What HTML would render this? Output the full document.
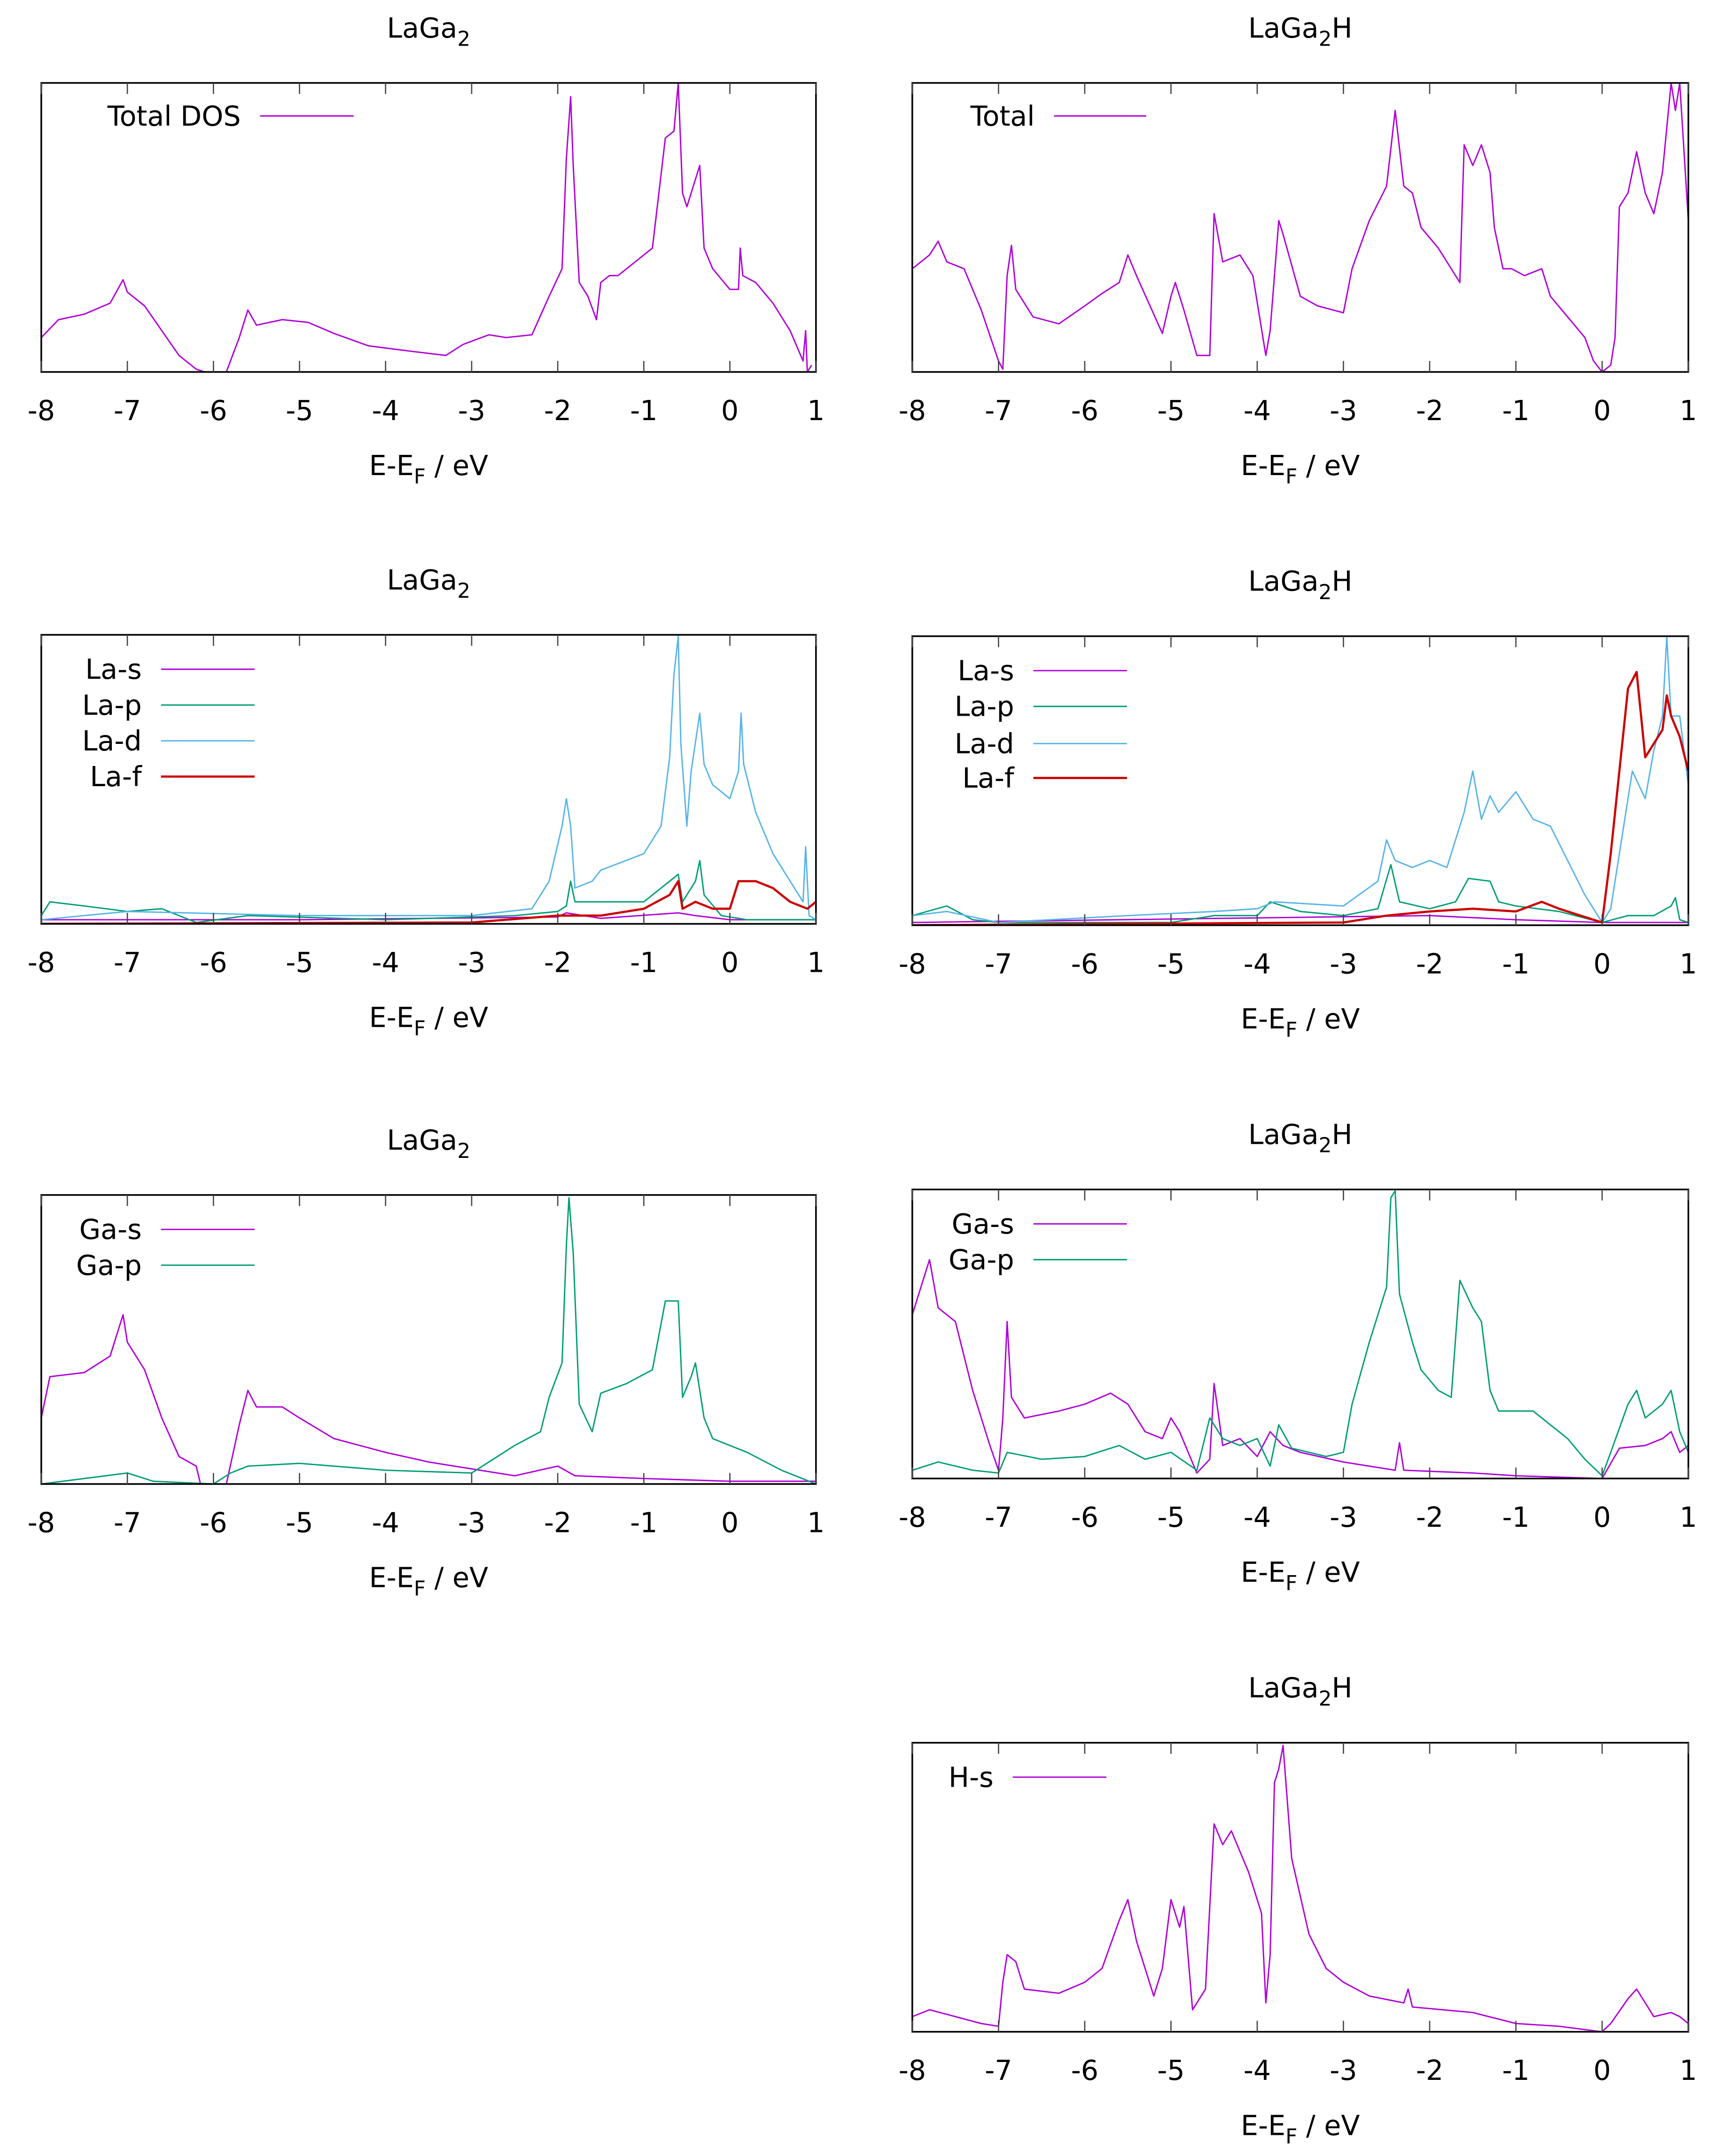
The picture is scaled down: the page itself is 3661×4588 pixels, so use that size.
<!DOCTYPE html>
<html><head><meta charset="utf-8">
<style>
html,body{margin:0;padding:0;background:#fff;}
svg{display:block;}
text{font-family:"DejaVu Sans","Liberation Sans",sans-serif;fill:#000;}
</style></head>
<body>
<svg id="chart" xmlns="http://www.w3.org/2000/svg" width="3661" height="4588" viewBox="0 0 1250 1566"></svg>
<script>
// ---- data (energies in eV, DOS in arbitrary units, axis 0..210) ----
const xTicks = [-8,-7,-6,-5,-4,-3,-2,-1,0,1];

const totLaE = [-8,-7.8,-7.5,-7.2,-7.05,-7,-6.8,-6.6,-6.4,-6.2,-6.1,-5.85,-5.7,-5.6,-5.5,-5.2,-4.9,-4.6,-4.2,-3.7,-3.3,-3.1,-2.8,-2.6,-2.3,-2.1,-1.95,-1.9,-1.85,-1.82,-1.75,-1.65,-1.55,-1.5,-1.4,-1.3,-1.1,-0.9,-0.75,-0.65,-0.6,-0.55,-0.5,-0.4,-0.35,-0.3,-0.2,0,0.1,0.12,0.15,0.3,0.5,0.7,0.85,0.88,0.9,0.95];
const totLaV = [25,38,42,50,67,58,48,30,12,2,0,0,25,45,34,38,36,28,19,15,12,20,27,25,27,55,75,155,200,150,65,55,38,65,70,70,80,90,170,175,210,130,120,140,150,90,75,60,60,90,70,65,50,30,8,30,0,5];

const totHE = [-8,-7.8,-7.7,-7.6,-7.4,-7.2,-7,-6.95,-6.9,-6.85,-6.8,-6.6,-6.3,-6,-5.8,-5.6,-5.5,-5.4,-5.2,-5.1,-5,-4.95,-4.85,-4.7,-4.55,-4.5,-4.4,-4.2,-4.05,-3.9,-3.85,-3.75,-3.7,-3.5,-3.3,-3,-2.9,-2.7,-2.5,-2.4,-2.3,-2.2,-2.1,-1.9,-1.75,-1.65,-1.6,-1.5,-1.4,-1.3,-1.25,-1.15,-1.05,-0.9,-0.7,-0.6,-0.4,-0.2,-0.1,0,0.1,0.15,0.2,0.3,0.4,0.5,0.6,0.7,0.8,0.85,0.9,0.95,1];
const totHV = [75,85,95,80,75,45,8,2,70,92,60,40,35,48,57,65,85,70,42,28,55,65,45,12,12,115,80,85,70,12,30,110,100,55,48,43,75,110,135,190,135,130,105,90,75,65,165,150,165,145,105,75,75,70,75,55,40,25,8,0,5,25,120,130,160,130,115,145,210,190,210,160,110];

const laSE1 = [-8,-5,-2,-1.9,-1.5,-0.6,-0.4,0,1];
const laSV1 = [3,3,5,8,4,8,6,3,3];
const laPE1 = [-8,-7.9,-7.5,-7,-6.6,-6.2,-5.6,-4,-2.5,-2,-1.9,-1.85,-1.8,-1,-0.7,-0.6,-0.55,-0.4,-0.35,-0.3,-0.1,0.2,1];
const laPV1 = [6,16,13,9,11,1,6,3,6,9,13,31,16,16,31,36,16,31,46,21,6,3,3];
const laDE1 = [-8,-7,-5,-3,-2.3,-2.1,-1.95,-1.9,-1.85,-1.8,-1.6,-1.5,-1,-0.8,-0.7,-0.65,-0.6,-0.57,-0.5,-0.45,-0.35,-0.3,-0.2,0,0.1,0.13,0.16,0.3,0.5,0.7,0.85,0.88,0.92,1];
const laDV1 = [3,9,6,6,11,31,71,91,71,26,31,39,51,71,121,181,209,131,71,111,153,116,101,91,111,153,116,81,51,31,16,56,6,3];
const laFE1 = [-8,-3,-2,-1.5,-1,-0.7,-0.6,-0.55,-0.4,-0.2,0,0.1,0.3,0.5,0.7,0.9,1];
const laFV1 = [0,1,6,6,11,21,31,11,16,11,11,31,31,26,16,11,16];

const laSE2 = [-8,-2,-1,0,1];
const laSV2 = [2,7,4,2,2];
const laPE2 = [-8,-7.6,-7.3,-7,-5,-4.5,-4,-3.85,-3.5,-3,-2.6,-2.45,-2.35,-2,-1.7,-1.55,-1.3,-1.2,-1,-0.5,0,0.3,0.6,0.8,0.85,0.9,1];
const laPV2 = [7,14,4,2,2,7,7,17,10,7,12,44,17,12,17,34,32,17,14,10,2,7,7,14,20,4,2];
const laDE2 = [-8,-7.6,-7,-5.5,-4.5,-4,-3.8,-3,-2.6,-2.5,-2.4,-2.2,-2,-1.8,-1.6,-1.5,-1.4,-1.3,-1.2,-1,-0.8,-0.6,-0.4,-0.2,0,0.1,0.2,0.35,0.5,0.6,0.7,0.75,0.8,0.9,1];
const laDV2 = [7,10,2,7,10,12,17,14,32,62,47,42,47,42,82,112,77,94,82,97,77,72,47,22,2,12,52,112,92,127,152,210,152,152,102];
const laFE2 = [-8,-3,-2.5,-2,-1.5,-1,-0.7,-0.5,0,0.1,0.2,0.3,0.4,0.5,0.6,0.7,0.75,0.8,0.9,1];
const laFV2 = [0,2,7,10,12,10,17,12,2,52,112,172,184,122,132,142,167,152,137,112];

const gaSE1 = [-8,-7.9,-7.5,-7.2,-7.05,-7,-6.8,-6.6,-6.4,-6.2,-6.15,-5.85,-5.7,-5.6,-5.5,-5.2,-5,-4.6,-4,-3.5,-2.5,-2,-1.8,-1,0,1];
const gaSV1 = [48,78,81,93,123,103,83,48,20,13,0,0,43,68,56,56,48,33,23,16,6,13,6,4,2,2];
const gaPE1 = [-8,-7,-6.7,-6,-5.8,-5.6,-5,-4,-3,-2.5,-2.2,-2.1,-1.95,-1.9,-1.87,-1.82,-1.75,-1.6,-1.5,-1.2,-0.9,-0.75,-0.6,-0.55,-0.45,-0.4,-0.3,-0.2,0,0.2,0.6,1];
const gaPV1 = [0,8,2,0,8,13,15,10,8,28,38,63,88,173,208,168,58,38,66,73,83,133,133,63,78,88,48,33,28,23,10,0];

const gaSE2 = [-8,-7.9,-7.8,-7.7,-7.5,-7.3,-7.1,-7,-6.95,-6.9,-6.85,-6.7,-6.3,-6,-5.7,-5.5,-5.3,-5.1,-5,-4.9,-4.7,-4.55,-4.5,-4.4,-4.2,-4,-3.85,-3.7,-3.5,-3,-2.4,-2.35,-2.3,-1.5,-1,0,0.2,0.5,0.7,0.8,0.9,1];
const gaSV2 = [119,139,159,124,114,64,24,6,44,114,59,44,49,54,62,54,34,29,44,34,4,14,69,24,29,16,34,24,19,12,6,26,6,4,2,0,22,24,29,34,19,24];
const gaPE2 = [-8,-7.7,-7.3,-7,-6.9,-6.5,-6,-5.6,-5.3,-5,-4.7,-4.55,-4.4,-4.2,-4,-3.85,-3.75,-3.6,-3.2,-3,-2.9,-2.7,-2.5,-2.45,-2.4,-2.35,-2.2,-2.1,-1.9,-1.75,-1.65,-1.5,-1.4,-1.3,-1.2,-1,-0.8,-0.6,-0.4,-0.2,0,0.1,0.3,0.4,0.5,0.7,0.8,0.9,1];
const gaPV2 = [6,12,6,4,19,14,16,24,14,19,6,44,29,24,29,9,39,22,16,19,54,99,139,204,209,134,99,79,64,59,144,124,114,64,49,49,49,39,29,14,2,19,54,64,44,54,64,34,19];

const hSE = [-8,-7.8,-7.5,-7.2,-7,-6.95,-6.9,-6.8,-6.7,-6.3,-6,-5.8,-5.6,-5.5,-5.4,-5.2,-5.1,-5,-4.9,-4.85,-4.75,-4.6,-4.5,-4.4,-4.3,-4.2,-4.1,-3.95,-3.9,-3.85,-3.8,-3.75,-3.7,-3.6,-3.4,-3.2,-3,-2.7,-2.3,-2.25,-2.2,-1.5,-1,-0.5,0,0.1,0.3,0.4,0.6,0.8,0.9,1];
const hSV = [11,16,11,6,4,36,56,51,31,28,36,46,81,96,66,26,46,96,76,91,16,31,151,136,146,131,116,86,21,56,181,191,208,126,71,46,36,26,21,31,18,14,6,4,0,6,24,31,11,14,11,6];

const C_PURPLE="#b000d8", C_GREEN="#009e73", C_CYAN="#56b4e9", C_RED="#cc0000";

const panels = [
 {name:"total-dos-laga2", x0:30,x1:593,top:60,bot:270, title:"LaGa", sub:"2", hsuf:"", lx:175, llen:68,
  series:[{label:"Total DOS",E:totLaE,V:totLaV,c:C_PURPLE,w:1}], legY:[84]},
 {name:"total-dos-laga2h", x0:663,x1:1227,top:60,bot:270, title:"LaGa", sub:"2", hsuf:"H", lx:752, llen:67,
  series:[{label:"Total",E:totHE,V:totHV,c:C_PURPLE,w:1}], legY:[84]},
 {name:"la-pdos-laga2", x0:30,x1:593,top:461,bot:671, title:"LaGa", sub:"2", hsuf:"", lx:103, llen:68,
  series:[{label:"La-s",E:laSE1,V:laSV1,c:C_PURPLE,w:1},{label:"La-p",E:laPE1,V:laPV1,c:C_GREEN,w:1},{label:"La-d",E:laDE1,V:laDV1,c:C_CYAN,w:1},{label:"La-f",E:laFE1,V:laFV1,c:C_RED,w:1.6}], legY:[486,512,538,564]},
 {name:"la-pdos-laga2h", x0:663,x1:1227,top:462,bot:672, title:"LaGa", sub:"2", hsuf:"H", lx:737, llen:68,
  series:[{label:"La-s",E:laSE2,V:laSV2,c:C_PURPLE,w:1},{label:"La-p",E:laPE2,V:laPV2,c:C_GREEN,w:1},{label:"La-d",E:laDE2,V:laDV2,c:C_CYAN,w:1},{label:"La-f",E:laFE2,V:laFV2,c:C_RED,w:1.6}], legY:[487,513,540,565]},
 {name:"ga-pdos-laga2", x0:30,x1:593,top:868,bot:1078, title:"LaGa", sub:"2", hsuf:"", lx:103, llen:68,
  series:[{label:"Ga-s",E:gaSE1,V:gaSV1,c:C_PURPLE,w:1},{label:"Ga-p",E:gaPE1,V:gaPV1,c:C_GREEN,w:1}], legY:[893,919]},
 {name:"ga-pdos-laga2h", x0:663,x1:1227,top:864,bot:1074, title:"LaGa", sub:"2", hsuf:"H", lx:737, llen:68,
  series:[{label:"Ga-s",E:gaSE2,V:gaSV2,c:C_PURPLE,w:1},{label:"Ga-p",E:gaPE2,V:gaPV2,c:C_GREEN,w:1}], legY:[889,915]},
 {name:"h-pdos-laga2h", x0:663,x1:1227,top:1266,bot:1476, title:"LaGa", sub:"2", hsuf:"H", lx:722, llen:68,
  series:[{label:"H-s",E:hSE,V:hSV,c:C_PURPLE,w:1}], legY:[1291]}
];

const NS="http://www.w3.org/2000/svg";
const svg=document.getElementById('chart');
function mk(tag,attrs,parent){const e=document.createElementNS(NS,tag);for(const k in attrs)e.setAttribute(k,attrs[k]);(parent||svg).appendChild(e);return e;}

panels.forEach((p,pi)=>{
  const g=mk('g',{});
  
  
  const xs=E=>p.x0+(E+8)/9*(p.x1-p.x0);
  const ys=v=>p.bot-v/210*(p.bot-p.top);
  const cid='clip'+pi;
  const cp=mk('clipPath',{id:cid},g);
  mk('rect',{x:p.x0,y:p.top,width:p.x1-p.x0,height:p.bot-p.top},cp);
  p.series.forEach(s=>{
    const d=s.E.map((e,i)=>(i?'L':'M')+xs(e).toFixed(2)+','+ys(s.V[i]).toFixed(2)).join('');
    const path=mk('path',{d:d,fill:'none',stroke:s.c,'stroke-width':s.w,'stroke-linejoin':'round','clip-path':'url(#'+cid+')'},g);
    
    
  });
  const fr=mk('rect',{x:p.x0,y:p.top,width:p.x1-p.x0,height:p.bot-p.top,fill:'none',stroke:'#000','stroke-width':1.2},g);
  
  
  xTicks.forEach(t=>{
    const x=xs(t);
    mk('line',{x1:x,x2:x,y1:p.bot,y2:p.bot-8,stroke:'#444','stroke-width':0.9},g);
    mk('line',{x1:x,x2:x,y1:p.top,y2:p.top+8,stroke:'#444','stroke-width':0.9},g);
    const tl=mk('text',{x:x,y:p.bot+35,'font-size':20,'text-anchor':'middle'},g);
    tl.textContent=String(t);
    
    
  });
  const xc=(p.x0+p.x1)/2;
  const xl=mk('text',{x:xc,y:p.bot+75,'font-size':20,'text-anchor':'middle'},g);
  
  
  xl.appendChild(document.createTextNode('E-E'));
  const fs=mk('tspan',{'font-size':15,dy:6},xl); fs.textContent='F';
  const rest=mk('tspan',{dy:-6},xl); rest.textContent=' / eV';
  const ti=mk('text',{x:xc,y:p.top-33,'font-size':20,'text-anchor':'middle'},g);
  
  
  ti.appendChild(document.createTextNode(p.title));
  const sb=mk('tspan',{'font-size':15,dy:6},ti); sb.textContent=p.sub;
  if(p.hsuf){const hh=mk('tspan',{dy:-6},ti); hh.textContent=p.hsuf;}
  p.series.forEach((s,i)=>{
    const y=p.legY[i];
    const lt=mk('text',{x:p.lx,y:y+7,'font-size':20,'text-anchor':'end'},g);
    lt.textContent=s.label;
    
    
    mk('line',{x1:p.lx+14,x2:p.lx+14+p.llen,y1:y,y2:y,stroke:s.c,'stroke-width':s.w},g);
  });
});
</script>
</body></html>
